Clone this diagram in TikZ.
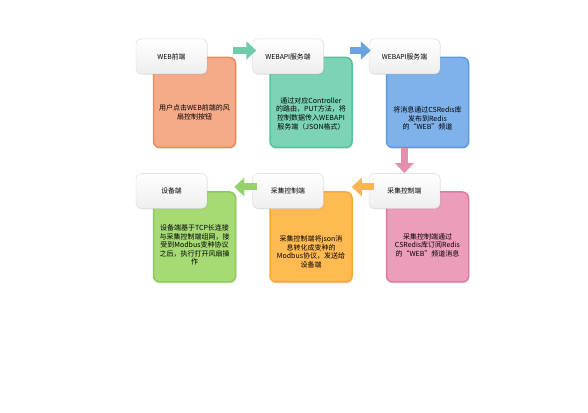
\documentclass[tikz,border=0pt]{standalone}
\usepackage{fontspec}
\setmainfont{Noto Sans CJK SC}
\usetikzlibrary{arrows.meta,positioning,shadows}

\definecolor{orbody}{HTML}{F5AA88}
\definecolor{oredge}{HTML}{EC8B5A}
\definecolor{tlbody}{HTML}{7DD3B6}
\definecolor{tledge}{HTML}{55C29F}
\definecolor{blbody}{HTML}{7FB2EA}
\definecolor{bledge}{HTML}{5C9BDF}
\definecolor{pkbody}{HTML}{EC9DBC}
\definecolor{pkedge}{HTML}{DF7AA2}
\definecolor{ylbody}{HTML}{FFBA52}
\definecolor{yledge}{HTML}{F9A733}
\definecolor{gnbody}{HTML}{A6DA74}
\definecolor{gnedge}{HTML}{8CCB56}
\definecolor{tlarrow}{HTML}{6FCBA8}
\definecolor{blarrow}{HTML}{6AA3E0}
\definecolor{pkarrow}{HTML}{E58FB0}
\definecolor{ylarrow}{HTML}{F8B455}
\definecolor{gnarrow}{HTML}{95D16C}
\definecolor{headline}{HTML}{D9D9D9}
\definecolor{headbot}{HTML}{EEEEEE}

\begin{document}
\begin{tikzpicture}[x=1pt,y=1pt,
    body node/.style={rectangle,rounded corners=6pt,minimum width=82pt,minimum height=90pt,
      line width=1.5pt,drop shadow={opacity=0.2,shadow xshift=1pt,shadow yshift=-1.5pt}},
    head node/.style={rectangle,rounded corners=5pt,minimum width=71pt,minimum height=35pt,
      draw=headline,top color=white,bottom color=headbot,font=\fontsize{6.8}{8}\selectfont,
      drop shadow={opacity=0.15,shadow xshift=1pt,shadow yshift=-1pt}},
    body text/.style={align=center,font=\fontsize{7}{8.6}\selectfont},
    flow arrow/.style={line width=7pt,-{Triangle[length=10pt,width=18pt]}}]

  \useasboundingbox (0,0) rectangle (588,412);

  % coloured boxes
  \node[body node,fill=orbody,draw=oredge] (b1) at (194.5,309.5) {};
  \node[body node,fill=tlbody,draw=tledge] (b2) [right=33pt of b1] {};
  \node[body node,fill=blbody,draw=bledge] (b3) [right=33pt of b2] {};
  \node[body node,fill=pkbody,draw=pkedge] (b4) [below=43pt of b3] {};
  \node[body node,fill=ylbody,draw=yledge] (b5) [left=33pt of b4] {};
  \node[body node,fill=gnbody,draw=gnedge] (b6) [left=33pt of b5] {};

  % headers
  \node[head node,anchor=north west] (h1) at ([xshift=-17pt,yshift=18pt]b1.north west) {WEB前端};
  \node[head node,anchor=north west] (h2) at ([xshift=-17pt,yshift=18pt]b2.north west) {WEBAPI服务端};
  \node[head node,anchor=north west] (h3) at ([xshift=-17pt,yshift=18pt]b3.north west) {WEBAPI服务端};
  \node[head node,anchor=north west] (h4) at ([xshift=-17pt,yshift=18pt]b4.north west) {采集控制端};
  \node[head node,anchor=north west] (h5) at ([xshift=-17pt,yshift=18pt]b5.north west) {采集控制端};
  \node[head node,anchor=north west] (h6) at ([xshift=-17pt,yshift=18pt]b6.north west) {设备端};

  % texts
  \node[body text] (t1) at ([yshift=-10pt]b1.center) {用户点击WEB前端的风\\扇控制按钮};
  \node[body text] (t2) at ([yshift=-11pt]b2.center) {通过对应Controller\\的路由，PUT方法，将\\控制数据传入WEBAPI\\服务端（JSON格式）};
  \node[body text] (t3) at ([yshift=-16pt]b3.center) {将消息通过CSRedis库\\发布到Redis\\的“WEB”频道};
  \node[body text] (t4) at ([yshift=-8pt]b4.center) {采集控制端通过\\CSRedis库订阅Redis\\的“WEB”频道消息};
  \node[body text] (t5) at ([yshift=-15pt]b5.center) {采集控制端将json消\\息转化成变种的\\Modbus协议，发送给\\设备端};
  \node[body text] (t6) at ([yshift=-8pt]b6.center) {设备端基于TCP长连接\\与采集控制端组网，接\\受到Modbus变种协议\\之后，执行打开风扇操\\作};

  % arrows
  \draw[flow arrow,draw=tlarrow] ([xshift=-3pt,yshift=6pt]b1.east |- h1.east) -- ([xshift=4pt,yshift=6pt]h2.west);
  \draw[flow arrow,draw=blarrow] ([xshift=-3pt,yshift=6pt]b2.east |- h2.east) -- ([xshift=2pt,yshift=6pt]h3.west);
  \draw[flow arrow,draw=pkarrow] (b3.south -| h4.north) -- (h4.north);
  \draw[flow arrow,draw=ylarrow] ([xshift=5pt,yshift=4pt]h4.west) -- ([xshift=-1pt,yshift=4pt]b5.east |- h5.east);
  \draw[flow arrow,draw=gnarrow] ([xshift=5pt,yshift=4pt]h5.west) -- ([xshift=-2pt,yshift=4pt]b6.east |- h6.east);
\end{tikzpicture}
\end{document}
